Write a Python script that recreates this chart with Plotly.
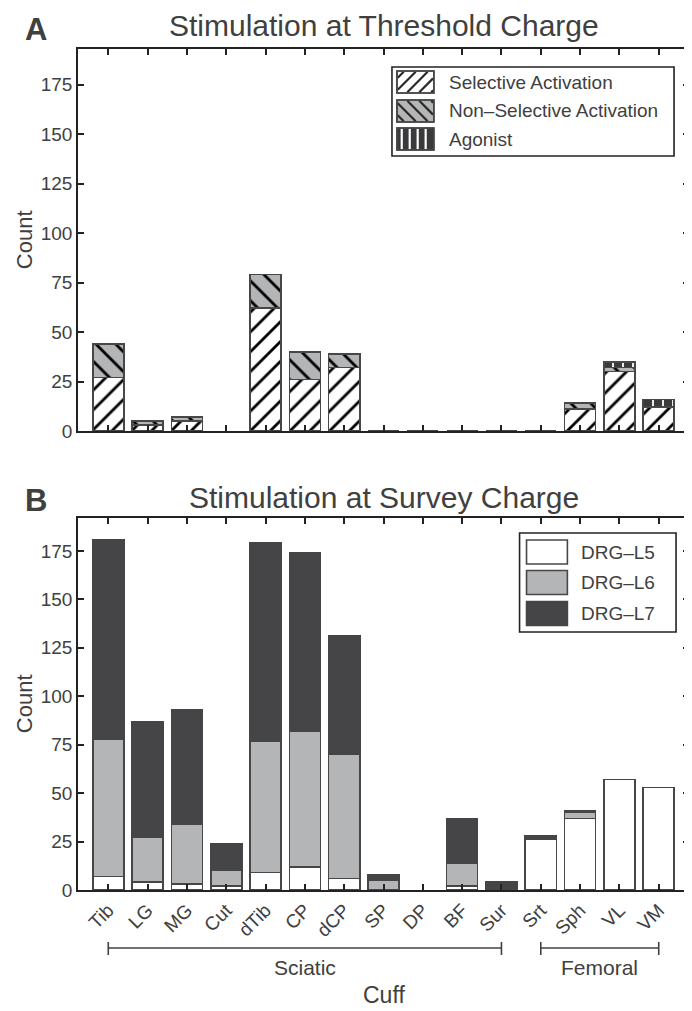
import plotly.graph_objects as go

# ---------------- data ----------------
categories = ["Tib", "LG", "MG", "Cut", "dTib", "CP", "dCP", "SP", "DP",
              "BF", "Sur", "Srt", "Sph", "VL", "VM"]

# Panel A: stimulation at threshold charge (stacked counts; None = no bar drawn)
selective = [27, 3, 5, None, 62, 26, 32, 0, 0, 0, 0, 0, 11, 30, 12]
non_selective = [17, 2, 2, None, 17, 14, 7, 0, 0, 0, 0, 0, 3, 2, 0]
agonist = [0, 0, 0, None, 0, 0, 0, 0, 0, 0, 0, 0, 0, 3, 4]

# Panel B: stimulation at survey charge (stacked counts)
drg_l5 = [7, 4, 3, 2, 9, 12, 6, 0, None, 2, 0, 26, 37, 57, 53]
drg_l6 = [71, 23, 31, 8, 68, 70, 64, 5, None, 12, 0, 0, 3, 0, 0]
drg_l7 = [103, 60, 59, 14, 102, 92, 61, 3, None, 23, 4, 2, 1, 0, 0]

y_ticks = [0, 25, 50, 75, 100, 125, 150, 175]
groups = [("Sciatic", "Tib", "Sur"), ("Femoral", "Srt", "VM")]

# ---------------- styling ----------------
FONT = "Liberation Sans, Arial, Helvetica, sans-serif"
TXT = "#404040"
EDGE = "#474747"
HATCH = "#2a2a2a"
FRAME = "#222222"
GREY = "#b4b5b7"
DARK = "#454548"

# page body has an 8px margin: figure covers page pixels 8..692 x 8..1011
OFF = 8
PL, PR, PT, PB = 78, 691, 49, 890       # plot area in page pixels
W, H = 692 - OFF, 1011 - OFF
ML, MR, MT = PL - OFF, 692 - PR, PT - OFF
PW, PH = PR - PL, PB - PT
MB = H - MT - PH


def px(x):
    return (x - PL) / PW


def py(y):
    return (PB - y) / PH


fig = go.Figure()

line = dict(color=EDGE, width=1.6)
fig.add_bar(x=categories, y=selective, name="Selective Activation",
            xaxis="x", yaxis="y",
            marker=dict(color="white", line=line,
                        pattern=dict(shape="/", fgcolor="#000000", bgcolor="white",
                                     fgopacity=1, size=14, solidity=0.2)))
fig.add_bar(x=categories, y=non_selective, name="Non–Selective Activation",
            xaxis="x", yaxis="y",
            marker=dict(color=GREY, line=line,
                        pattern=dict(shape="\\", fgcolor="#000000", bgcolor=GREY,
                                     fgopacity=1, size=14, solidity=0.2)))
fig.add_bar(x=categories, y=agonist, name="Agonist",
            xaxis="x", yaxis="y",
            marker=dict(color="#3a3a3c", line=line,
                        pattern=dict(shape="|", fgcolor="white", bgcolor="#3a3a3c",
                                     fgopacity=1, size=10, solidity=0.18)))

fig.add_bar(x=categories, y=drg_l5, name="DRG–L5", xaxis="x2", yaxis="y2",
            marker=dict(color="white", line=line))
fig.add_bar(x=categories, y=drg_l6, name="DRG–L6", xaxis="x2", yaxis="y2",
            marker=dict(color=GREY, line=line))
fig.add_bar(x=categories, y=drg_l7, name="DRG–L7", xaxis="x2", yaxis="y2",
            marker=dict(color=DARK, line=dict(color=DARK, width=1.6)))

axis_common = dict(showline=True, linecolor=FRAME, linewidth=1.6, mirror="ticks",
                   ticks="inside", ticklen=6, tickwidth=1.5, tickcolor=FRAME,
                   showgrid=False, zeroline=False,
                   tickfont=dict(family=FONT, size=19, color=TXT))

yA0 = py(431)
yB1 = py(518)

fig.update_layout(
    width=W, height=H,
    margin=dict(l=ML, r=MR, t=MT, b=MB, pad=0),
    paper_bgcolor="white", plot_bgcolor="white",
    barmode="stack", bargap=0.21,
    showlegend=False,
    font=dict(family=FONT, color=TXT),
    xaxis=dict(axis_common, domain=[0, 1], anchor="y", type="category",
               categoryorder="array", categoryarray=categories,
               range=[-0.77, 14.77], showticklabels=False),
    yaxis=dict(axis_common, domain=[yA0, 1], anchor="x", range=[0, 193],
               tickvals=y_ticks),
    xaxis2=dict(axis_common, domain=[0, 1], anchor="y2", type="category",
                categoryorder="array", categoryarray=categories,
                range=[-0.77, 14.77], tickangle=-45,
                tickfont=dict(family=FONT, size=19, color=TXT)),
    yaxis2=dict(axis_common, domain=[0, yB1], anchor="x2", range=[0, 192],
                tickvals=y_ticks),
)

ann = []
shapes = []

# panel letters and titles
for letter, title, ycen in [("A", "Stimulation at Threshold Charge", 26),
                            ("B", "Stimulation at Survey Charge", 497)]:
    ann.append(dict(text=letter, x=px(36), y=py(ycen + 3), xref="paper", yref="paper",
                    showarrow=False, xanchor="center", yanchor="middle", borderpad=0,
                    font=dict(family=FONT, size=31, color=TXT, weight="bold")))
    ann.append(dict(text=title, x=0.5, y=py(ycen), xref="paper", yref="paper",
                    showarrow=False, xanchor="center", yanchor="middle", borderpad=0,
                    font=dict(family=FONT, size=30, color=TXT)))

# y-axis titles
for ycen in [240, 704]:
    ann.append(dict(text="Count", x=px(24), y=py(ycen), xref="paper", yref="paper",
                    showarrow=False, textangle=-90, xanchor="center", yanchor="middle",
                    borderpad=0, font=dict(family=FONT, size=22, color=TXT)))

# group brackets
yb = py(948)
for name, c0, c1 in groups:
    i0, i1 = categories.index(c0), categories.index(c1)
    shapes.append(dict(type="line", xref="x2", yref="paper", x0=i0, x1=i1,
                       y0=yb, y1=yb, line=dict(color=TXT, width=1.6)))
    for xi in (i0, i1):
        shapes.append(dict(type="line", xref="x2", yref="paper", x0=xi, x1=xi,
                           y0=py(942), y1=py(955), line=dict(color=TXT, width=1.6)))
    ann.append(dict(text=name, x=(i0 + i1) / 2, y=py(967), xref="x2", yref="paper",
                    showarrow=False, xanchor="center", yanchor="middle",
                    font=dict(family=FONT, size=21, color=TXT)))

ann.append(dict(text="Cuff", x=0.5, y=py(995), xref="paper", yref="paper",
                showarrow=False, xanchor="center", yanchor="middle", borderpad=0,
                font=dict(family=FONT, size=23, color=TXT)))


# ---------------- custom legends ----------------
def hatch(x0, y0, x1, y1, kind, step, color, width):
    segs = []
    if kind == "/":
        c = x0 + y0 + step / 2
        while c < x1 + y1:
            xa, xb = max(x0, c - y1), min(x1, c - y0)
            if xa < xb:
                segs.append((xa, c - xa, xb, c - xb))
            c += step
    elif kind == "\\":
        c = x0 - y1 + step / 2
        while c < x1 - y0:
            xa, xb = max(x0, c + y0), min(x1, c + y1)
            if xa < xb:
                segs.append((xa, xa - c, xb, xb - c))
            c += step
    elif kind == "|":
        c = x0 + step / 2
        while c < x1:
            segs.append((c, y0, c, y1))
            c += step
    for a, b, cc, d in segs:
        shapes.append(dict(type="line", xref="paper", yref="paper",
                           x0=px(a), y0=py(b), x1=px(cc), y1=py(d),
                           line=dict(color=color, width=width)))


def legend_box(x0, y0, x1, y1):
    shapes.append(dict(type="rect", xref="paper", yref="paper",
                       x0=px(x0), x1=px(x1), y0=py(y0), y1=py(y1),
                       fillcolor="white", line=dict(color=FRAME, width=1.6),
                       layer="above"))


def swatch(x0, y0, x1, y1, fill, edge):
    shapes.append(dict(type="rect", xref="paper", yref="paper",
                       x0=px(x0), x1=px(x1), y0=py(y0), y1=py(y1),
                       fillcolor=fill, line=dict(color=edge, width=1.6),
                       layer="above"))


def legend_text(text, x, y):
    ann.append(dict(text=text, x=px(x), y=py(y), xref="paper", yref="paper",
                    showarrow=False, xanchor="left", yanchor="middle",
                    font=dict(family=FONT, size=19, color=TXT)))


# Legend A
legend_box(393, 67, 676, 156)
legA = [("Selective Activation", "white", "/", HATCH),
        ("Non–Selective Activation", GREY, "\\", HATCH),
        ("Agonist", "#3a3a3c", "|", "white")]
for (label, fill, kind, hc), yc in zip(legA, [82, 111, 139]):
    swatch(398, yc - 11, 435, yc + 11, fill, EDGE)
    hatch(398.8, yc - 10.2, 434.2, yc + 10.2, kind, 12 if kind != "|" else 8, hc, 2.2)
    swatch(398, yc - 11, 435, yc + 11, "rgba(0,0,0,0)", EDGE)
    legend_text(label, 448, yc)

# Legend B
legend_box(521, 533, 678, 632)
legB = [("DRG–L5", "white", EDGE), ("DRG–L6", GREY, EDGE), ("DRG–L7", DARK, DARK)]
for (label, fill, edge), yc in zip(legB, [552, 582.5, 613.5]):
    swatch(528, yc - 12, 569, yc + 12, fill, edge)
    legend_text(label, 581, yc)

fig.update_layout(annotations=ann, shapes=shapes)
fig.write_html("out.html")
